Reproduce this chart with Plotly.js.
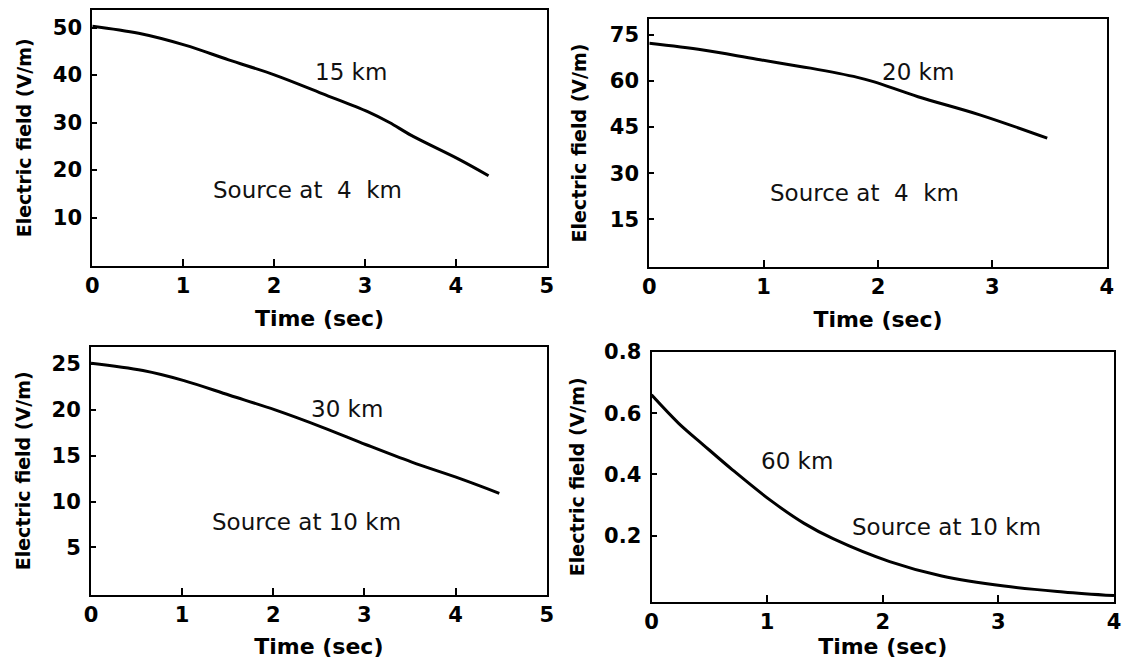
<!DOCTYPE html>
<html>
<head>
<meta charset="utf-8">
<script src="https://cdn.plot.ly/plotly-3.0.1.min.js"></script>
<style>html,body{margin:0;padding:0;background:#fff;}#chart{width:1122px;height:660px;}</style>
</head>
<body>
<div id="chart"></div>
<script>
// ---- data ----
const t15 = [0, 0.51, 1.02, 1.5, 2.01, 2.53, 3.03, 3.27, 3.51, 4.03, 4.36];
const e15 = [50.3, 48.8, 46.3, 43.2, 40.0, 36.1, 32.3, 30.0, 27.3, 22.3, 18.8];

const t20 = [0, 0.47, 0.94, 1.41, 1.82, 1.96, 2.35, 2.89, 3.48];
const e20 = [72.3, 70.1, 67.1, 64.2, 61.2, 59.8, 54.9, 49.0, 41.4];

const t30 = [0, 0.57, 1.02, 1.52, 2.02, 2.54, 3.02, 3.52, 4.05, 4.48];
const e30 = [25.1, 24.3, 23.2, 21.6, 20.0, 18.1, 16.2, 14.3, 12.5, 10.9];

const t60 = [0, 0.235, 0.45, 0.70, 1.03, 1.32, 1.57, 2.06, 2.51, 3.05, 3.56, 4.0];
const e60 = [0.660, 0.567, 0.496, 0.415, 0.315, 0.240, 0.190, 0.115, 0.068, 0.035, 0.016, 0.004];

const xTicks5 = [0, 1, 2, 3, 4, 5];
const xTicks4 = [0, 1, 2, 3, 4];
const yTicks15 = [10, 20, 30, 40, 50];
const yTicks20 = [15, 30, 45, 60, 75];
const yTicks30 = [5, 10, 15, 20, 25];
const yTicks60 = [0.2, 0.4, 0.6, 0.8];

const distLabels = ['15 km', '20 km', '30 km', '60 km'];
const sourceLabels = ['Source at  4  km', 'Source at  4  km', 'Source at 10 km', 'Source at 10 km'];
const xTitle = 'Time (sec)';
const yTitle = 'Electric field (V/m)';

// ---- layout helpers ----
const W = 1122, H = 660;
const px = v => v / W;
const py = v => 1 - v / H;

const tickFont = {family: 'DejaVu Sans', size: 21, weight: 'bold', color: '#000'};
const xTitleFont = {family: 'DejaVu Sans', size: 22, weight: 'bold', color: '#000'};
const yTitleFont = {family: 'DejaVu Sans', size: 19, weight: 'bold', color: '#000'};
const textFont = {family: 'DejaVu Sans', size: 23, color: '#111'};

function xAxis(anchor, domain, range, vals, standoff) {
  return {
    anchor: anchor,
    domain: domain, range: range, tickvals: vals, ticktext: vals.map(String),
    showline: true, mirror: true, linecolor: '#000', linewidth: 2,
    ticks: 'inside', ticklen: 7, tickwidth: 2, tickcolor: '#000',
    showgrid: false, zeroline: false, tickfont: tickFont,
    title: {text: xTitle, font: xTitleFont, standoff: standoff},
    fixedrange: true
  };
}
function yAxis(anchor, domain, range, vals, standoff) {
  return {
    anchor: anchor,
    domain: domain, range: range, tickvals: vals, ticktext: vals.map(String),
    showline: true, mirror: true, linecolor: '#000', linewidth: 2,
    ticks: 'inside', ticklen: 5, tickwidth: 2, tickcolor: '#000',
    showgrid: false, zeroline: false, tickfont: tickFont,
    ticklabelstandoff: 4,
    title: {text: yTitle, font: yTitleFont, standoff: standoff},
    fixedrange: true
  };
}

const lineStyle = {color: '#000', width: 3, shape: 'spline', smoothing: 1};

const traces = [
  {x: t15, y: e15, xaxis: 'x', yaxis: 'y', mode: 'lines', line: lineStyle, hoverinfo: 'skip'},
  {x: t20, y: e20, xaxis: 'x2', yaxis: 'y2', mode: 'lines', line: lineStyle, hoverinfo: 'skip'},
  {x: t30, y: e30, xaxis: 'x3', yaxis: 'y3', mode: 'lines', line: lineStyle, hoverinfo: 'skip'},
  {x: t60, y: e60, xaxis: 'x4', yaxis: 'y4', mode: 'lines', line: lineStyle, hoverinfo: 'skip'}
];

function note(text, x, y) {
  return {text: text, x: px(x), y: py(y), xref: 'paper', yref: 'paper',
          xanchor: 'center', yanchor: 'middle', showarrow: false, font: textFont};
}

const layout = {
  width: W, height: H,
  margin: {l: 0, r: 0, t: 0, b: 0},
  paper_bgcolor: '#fff', plot_bgcolor: '#fff',
  showlegend: false,
  xaxis:  xAxis('y',  [px(92.3), px(546.7)], [0, 5], xTicks5, 14),
  yaxis:  yAxis('x',  [py(265.7), py(10)], [-0.15, 53.7], yTicks15, 16),
  xaxis2: xAxis('y2', [px(649.3), px(1106.7)], [0, 4], xTicks4, 14),
  yaxis2: yAxis('x2', [py(266.7), py(19.3)], [-0.45, 80.1], yTicks20, 18),
  xaxis3: xAxis('y3', [px(91), px(546.7)], [0, 5], xTicks5, 12),
  yaxis3: yAxis('x3', [py(595), py(346.7)], [-0.2, 26.9], yTicks30, 16),
  xaxis4: xAxis('y4', [px(651.5), px(1114)], [0, 4], xTicks4, 2),
  yaxis4: yAxis('x4', [py(601.7), py(351.7)], [-0.016, 0.801], yTicks60, 14),
  annotations: [
    note(distLabels[0], 350.6, 71.7),
    note(sourceLabels[0], 307, 190),
    note(distLabels[1], 918.4, 71.7),
    note(sourceLabels[1], 864, 193.3),
    note(distLabels[2], 347, 409),
    note(sourceLabels[2], 306.5, 521.7),
    note(distLabels[3], 797.4, 460.7),
    note(sourceLabels[3], 946.7, 526.7)
  ]
};

Plotly.newPlot('chart', traces, layout, {staticPlot: true, displayModeBar: false});
</script>
</body>
</html>
